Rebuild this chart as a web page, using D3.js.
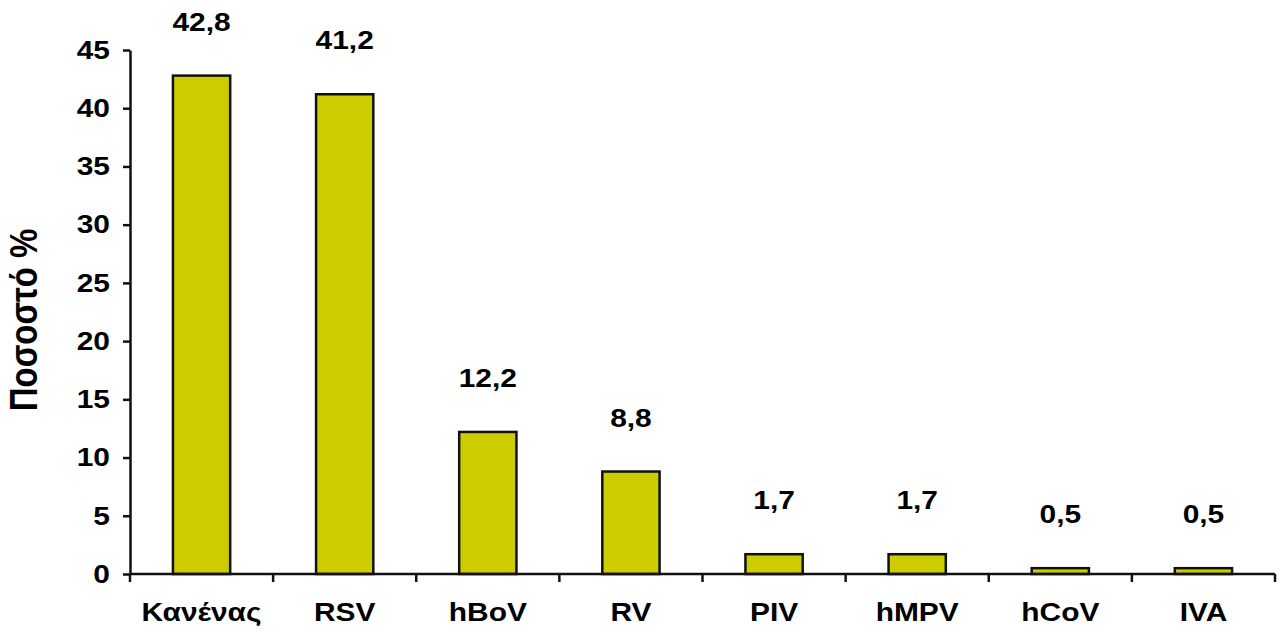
<!DOCTYPE html>
<html>
<head>
<meta charset="utf-8">
<script src="https://cdn.jsdelivr.net/npm/d3@7"></script>
<style>
  body { margin: 0; background: #fff; }
  text { font-family: "Liberation Sans", Arial, sans-serif; font-weight: bold; fill: #000; }
</style>
</head>
<body>
<div id="viz"></div>
<script>
var categories = ["Κανένας", "RSV", "hBoV", "RV", "PIV", "hMPV", "hCoV", "IVA"];
var values = [42.8, 41.2, 12.2, 8.8, 1.7, 1.7, 0.5, 0.5];
var valueLabels = ["42,8", "41,2", "12,2", "8,8", "1,7", "1,7", "0,5", "0,5"];
var yTicks = [0, 5, 10, 15, 20, 25, 30, 35, 40, 45];
var yTitle = "Ποσοστό %";

var fx = 1281, fy = 632;
var stretch = 1.15; // the figure text is a bit wide

var svg = d3.select("#viz")
    .append("svg")
    .attr("width", fx)
    .attr("height", fy);

var x = d3.scaleBand()
    .domain(categories)
    .range([130, 1275])
    .paddingInner(0.6)
    .paddingOuter(0.3);

var y = d3.scaleLinear()
    .domain([0, 45])
    .range([574, 50]);

// bars
svg.append("g").selectAll("rect")
    .data(values)
    .enter().append("rect")
    .attr("x", function(d, i) { return x(categories[i]); })
    .attr("y", function(d) { return y(d); })
    .attr("width", x.bandwidth())
    .attr("height", function(d) { return y(0) - y(d); })
    .attr("fill", "#cccc00")
    .attr("stroke", "#111")
    .attr("stroke-width", 2.5);

// value labels
svg.append("g").selectAll("text")
    .data(values)
    .enter().append("text")
    .attr("transform", function(d, i) {
        return "translate(" + (x(categories[i]) + x.bandwidth() / 2) + "," + (y(d) - 54) + ")scale(" + stretch + ",1)";
    })
    .attr("text-anchor", "middle")
    .attr("dy", "0.35em")
    .style("font-size", "26px")
    .text(function(d, i) { return valueLabels[i]; });

// y axis
var yAxis = svg.append("g")
    .attr("transform", "translate(130,0)")
    .call(d3.axisLeft(y).tickValues(yTicks).tickSize(7).tickPadding(10.5).tickSizeOuter(0));
yAxis.select(".domain").attr("stroke", "#111").attr("stroke-width", 2.5);
yAxis.selectAll(".tick line").attr("stroke", "#111").attr("stroke-width", 2.5);
yAxis.selectAll(".tick text")
    .attr("transform", "scale(" + stretch + ",1)")
    .style("font-size", "26px")
    .style("font-family", null);

// x axis: labels only, domain and boundary ticks drawn below
var xAxis = svg.append("g")
    .attr("transform", "translate(0," + y(0) + ")")
    .call(d3.axisBottom(x).tickSize(0).tickPadding(29));
xAxis.select(".domain").remove();
xAxis.selectAll(".tick text")
    .attr("transform", "scale(" + stretch + ",1)")
    .style("font-size", "26px")
    .style("font-family", null);

svg.append("line")
    .attr("x1", x.range()[0])
    .attr("x2", x.range()[1])
    .attr("y1", y(0))
    .attr("y2", y(0))
    .attr("stroke", "#111")
    .attr("stroke-width", 2.5);

svg.append("g").selectAll("line")
    .data(d3.range(categories.length + 1))
    .enter().append("line")
    .attr("x1", function(i) { return x.range()[0] + i * x.step(); })
    .attr("x2", function(i) { return x.range()[0] + i * x.step(); })
    .attr("y1", y(0))
    .attr("y2", y(0) + 8)
    .attr("stroke", "#111")
    .attr("stroke-width", 2.5);

// y title
svg.append("text")
    .attr("transform", "translate(24,320)scale(" + stretch + ",1)rotate(-90)")
    .attr("text-anchor", "middle")
    .attr("dy", "0.35em")
    .style("font-size", "33px")
    .text(yTitle);
</script>
</body>
</html>
